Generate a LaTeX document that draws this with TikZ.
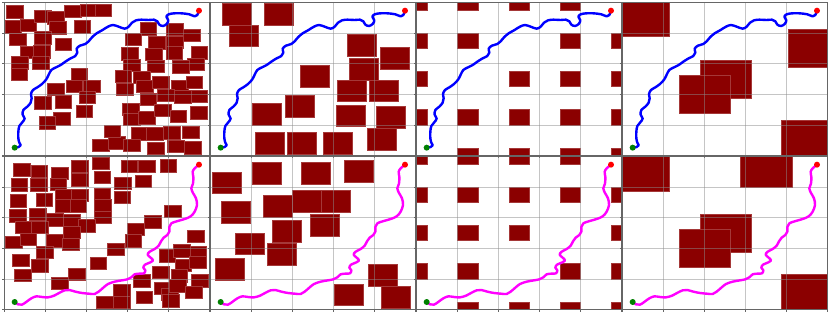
\documentclass[tikz,border=0pt]{standalone}
\definecolor{obs}{RGB}{139,0,0}
\definecolor{pblue}{RGB}{0,0,255}
\definecolor{pmag}{RGB}{255,0,255}
\definecolor{startc}{RGB}{0,128,0}
\definecolor{goalc}{RGB}{255,0,0}
\tikzset{
 obst/.style={fill=obs,draw=obs!78!white,line width=0.35pt},
 gridl/.style={draw=black!45,opacity=0.5,line width=0.8pt},
 framel/.style={draw=black!60,line width=0.8pt},
 tickl/.style={draw=black!60,line width=0.6pt},
 bluepath/.style={draw=pblue,line width=2.4pt,line cap=round,line join=round},
 magpath/.style={draw=pmag,line width=2.4pt,line cap=round,line join=round},
 zoomunits/.style={x=0.33333pt,y=-0.33333pt},
 cellunits/.style={x=41pt,y=-30.6pt}
}
\newcommand\ob[2]{\path[obst] (#1,#2) rectangle ++(\obW,\obH);}
\newcommand\sq[2]{\path[obst] (#1*1.25-0.25,#2*1.25-0.25) rectangle ++(0.5,0.5);}
\newcommand\gridframe{%
 \foreach \k in {1,2,3,4}{\draw[gridl] (41*\k,0) -- (41*\k,153); \draw[gridl] (0,30.6*\k) -- (205,30.6*\k);}
 \draw[framel] (0,0) rectangle (205,153);
 \foreach \k in {0,...,5}{\draw[tickl] (41*\k,153) -- (41*\k,155.5); \draw[tickl] (0,30.6*\k) -- (-2.5,30.6*\k);}
}
\newcommand\toppath{%
 \begin{scope}[zoomunits,shift={(-19.5,-7.5)}]
 \draw[bluepath] plot[smooth,tension=0.55] coordinates {(50,443) (62,441) (68,436) (64,428) (61,415) (61,395) (64,378) (72,368) (80,356) (74,344) (76,330) (88,320) (98,308) (101,295) (99,282) (105,270) (118,262) (132,252) (145,238) (153,222) (160,210) (172,203) (188,195) (202,185) (218,175) (232,168) (238,158) (236,146) (246,137) (262,132) (272,124) (282,112) (296,100) (312,91) (330,80) (345,75) (362,80) (380,86) (392,80) (402,68) (414,61) (430,59) (452,60) (468,59) (478,64) (484,74) (495,78) (506,72) (511,61) (505,50) (512,43) (528,40) (552,40) (574,43) (590,49) (598,45) (603,32)};
 \coordinate (s) at (50,443); \coordinate (g) at (603,32);
 \fill[startc] (s) circle[radius=3pt];
 \fill[goalc] (g) circle[radius=3pt];
 \end{scope}}
\newcommand\botpath{%
 \begin{scope}[zoomunits,shift={(-19.5,-10.5)}]
 \draw[magpath] plot[smooth,tension=0.55] coordinates {(50,447) (60,454) (72,455) (86,446) (100,436) (115,430) (132,432) (150,433) (168,428) (185,419) (200,412) (214,411) (232,416) (252,420) (272,422) (290,423) (302,416) (316,404) (330,393) (350,386) (372,382) (388,379) (400,373) (410,364) (424,362) (438,361) (442,352) (436,344) (441,335) (455,329) (465,322) (458,314) (449,305) (455,296) (470,288) (482,278) (489,265) (497,254) (508,246) (514,236) (514,222) (520,211) (536,205) (560,198) (578,190) (590,176) (597,156) (594,136) (585,120) (580,106) (585,92) (586,72) (584,56) (591,45) (603,35)};
 \coordinate (s) at (50,447); \coordinate (g) at (603,35);
 \fill[startc] (s) circle[radius=3pt];
 \fill[goalc] (g) circle[radius=3pt];
 \end{scope}}
\begin{document}
\begin{tikzpicture}[x=1pt,y=-1pt]
\useasboundingbox (0,0) rectangle (830,313);
\fill[white] (0,0) rectangle (830,313);
% ---------- panel 1 ----------
\begin{scope}[shift={(4.5,2.5)}]
 \begin{scope}
 \clip (0,0) rectangle (205,153);
 \begin{scope}[zoomunits,shift={(-13.5,-7.5)}]
 \def\obW{49.2}\def\obH{36.9}
 \foreach \a/\b in {20/17,15/62,60/57,103/30,143/35,148/65,193/15,240/12,285/12,222/62,103/95,28/100,165/115,62/138,100/137,98/170,35/170,33/205,213/205,198/240,250/240,237/273,142/250,103/290,165/287,228/315,160/338,117/350,278/418,325/410,312/375,
 420/68,375/100,500/70,550/88,445/110,437/145,500/108,498/140,365/143,370/178,573/140,563/175,518/182,443/180,345/210,350/250,400/213,410/240,457/228,515/240,558/228,420/280,473/268,523/272,573/270,367/310,370/340,415/335,463/313,510/330,572/320,393/383,440/383,490/380,547/378,370/418,442/427,502/420,553/425}{\ob{\a}{\b}}
 \end{scope}
 \end{scope}
 \gridframe
 \toppath
\end{scope}
% ---------- panel 2 ----------
\begin{scope}[shift={(210.5,2.5)}]
 \begin{scope}
 \clip (0,0) rectangle (205,153);
 \begin{scope}[zoomunits,shift={(-16.5,-7.5)}]
 \def\obW{86.1}\def\obH{64.6}
 \foreach \a/\b in {52/10,72/75,177/10,427/103,527/142,285/197,432/175,396/240,492/240,242/287,143/310,393/315,515/320,151/397,248/397,355/397,487/385}{\ob{\a}{\b}}
 \end{scope}
 \end{scope}
 \gridframe
 \toppath
\end{scope}
% ---------- panel 3 ----------
\begin{scope}[shift={(416.5,2.5)}]
 \begin{scope}
 \clip (0,0) rectangle (205,153);
 \begin{scope}[cellunits]
 \foreach \c/\r in {0/0,1/0,2/0,3/0,0/1,1/1,3/1,4/1,0/2,2/2,3/2,4/2,0/3,1/3,2/3,3/3,4/3,1/4,2/4,3/4,4/4}{\sq{\c}{\r}}
 \end{scope}
 \end{scope}
 \gridframe
 \toppath
\end{scope}
% ---------- panel 4 ----------
\begin{scope}[shift={(622.5,2.5)}]
 \begin{scope}
 \clip (0,0) rectangle (205,153);
 \begin{scope}[cellunits]
 \path[obst] (-0.11,-0.14) rectangle ++(1.25,1.25);
 \path[obst] (4.03,0.87) rectangle ++(1.25,1.25);
 \path[obst] (1.895,1.87) rectangle ++(1.25,1.25);
 \path[obst] (1.38,2.36) rectangle ++(1.25,1.25);
 \path[obst] (3.87,3.84) rectangle ++(1.25,1.25);
 \end{scope}
 \end{scope}
 \gridframe
 \toppath
\end{scope}
% ---------- panel 5 ----------
\begin{scope}[shift={(4.5,156.5)}]
 \begin{scope}
 \clip (0,0) rectangle (205,153);
 \begin{scope}[zoomunits,shift={(-13.5,-10.5)}]
 \def\obW{49.2}\def\obH{36.9}
 \foreach \a/\b in {40/32,93/37,155/43,215/22,278/13,363/22,415/22,480/20,33/77,92/77,150/75,215/62,282/55,343/73,405/67,30/125,108/122,165/108,165/140,215/108,210/140,282/105,283/140,283/175,342/115,28/170,88/165,140/182,190/185,235/200,45/205,95/205,190/220,17/250,60/240,140/245,188/255,110/280,37/303,95/320,43/348,270/313,323/270,383/210,375/245,433/188,493/157,563/232,205/345,155/372,290/430,340/395,340/430,408/415,400/365,458/340,477/290,520/275,570/280,525/318,568/310,513/350,575/365,462/388,485/405,487/425,508/380,557/400}{\ob{\a}{\b}}
 \end{scope}
 \end{scope}
 \gridframe
 \botpath
\end{scope}
% ---------- panel 6 ----------
\begin{scope}[shift={(210.5,156.5)}]
 \begin{scope}
 \clip (0,0) rectangle (205,153);
 \begin{scope}[zoomunits,shift={(-16.5,-10.5)}]
 \def\obW{86.1}\def\obH{64.6}
 \foreach \a/\b in {22/57,143/28,290/28,418/22,48/145,175/127,263/112,350/112,203/203,317/185,90/240,187/272,30/317,490/335,388/393,530/400}{\ob{\a}{\b}}
 \end{scope}
 \end{scope}
 \gridframe
 \botpath
\end{scope}
% ---------- panel 7 ----------
\begin{scope}[shift={(416.5,156.5)}]
 \begin{scope}
 \clip (0,0) rectangle (205,153);
 \begin{scope}[cellunits]
 \foreach \c/\r in {0/0,1/0,2/0,3/0,0/1,1/1,2/1,3/1,4/1,0/2,1/2,2/2,4/2,0/3,1/3,3/3,4/3,1/4,2/4,3/4,4/4}{\sq{\c}{\r}}
 \end{scope}
 \end{scope}
 \gridframe
 \botpath
\end{scope}
% ---------- panel 8 ----------
\begin{scope}[shift={(622.5,156.5)}]
 \begin{scope}
 \clip (0,0) rectangle (205,153);
 \begin{scope}[cellunits]
 \path[obst] (-0.11,-0.12) rectangle ++(1.25,1.25);
 \path[obst] (2.88,-0.26) rectangle ++(1.25,1.25);
 \path[obst] (1.895,1.87) rectangle ++(1.25,1.25);
 \path[obst] (1.38,2.36) rectangle ++(1.25,1.25);
 \path[obst] (3.87,3.85) rectangle ++(1.25,1.25);
 \end{scope}
 \end{scope}
 \gridframe
 \botpath
\end{scope}
\end{tikzpicture}
\end{document}
